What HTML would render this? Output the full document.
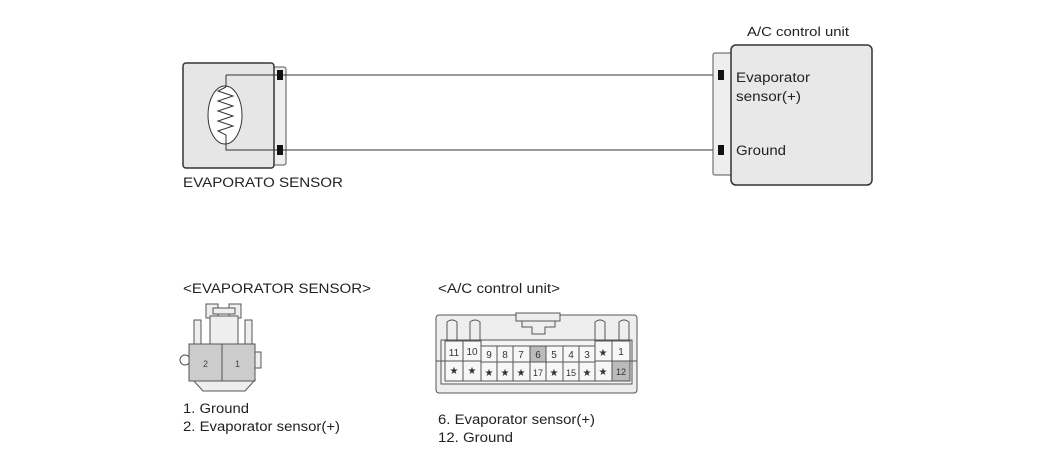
<!DOCTYPE html>
<html><head><style>
html,body{margin:0;padding:0;background:#fff;}
svg{display:block;font-family:"Liberation Sans",Arial,sans-serif;}
</style></head><body>
<svg width="1050" height="468" viewBox="0 0 1050 468">
<!-- sensor -->
<rect x="273" y="67" width="13" height="98" rx="2" fill="#eee" stroke="#555"/>
<rect x="183" y="63" width="91" height="105" rx="3" fill="#e6e6e6" stroke="#333" stroke-width="1.5"/>
<ellipse cx="225" cy="115" rx="17" ry="29" fill="#fff" stroke="#333"/>
<polyline points="226,75 282,75" fill="none" stroke="#333"/>
<polyline points="226,75 226,87" fill="none" stroke="#333"/>
<polyline points="226,87 218,91 233,96 218,101 233,106 218,111 233,116 218,121 233,126 218,131 226,135 226,150 282,150" fill="none" stroke="#333"/>
<rect x="277" y="70" width="6" height="10" fill="#111"/>
<rect x="277" y="145" width="6" height="10" fill="#111"/>
<line x1="283" y1="75" x2="716" y2="75" stroke="#333"/>
<line x1="283" y1="150" x2="716" y2="150" stroke="#333"/>
<text x="183" y="187" font-size="13.5" fill="#222" textLength="160" lengthAdjust="spacingAndGlyphs">EVAPORATO SENSOR</text>
<!-- ACU -->
<rect x="713" y="53" width="20" height="122" rx="2" fill="#eee" stroke="#555"/>
<rect x="731" y="45" width="141" height="140" rx="5" fill="#e8e8e8" stroke="#333" stroke-width="1.5"/>
<rect x="718" y="70" width="6" height="10" fill="#111"/>
<rect x="718" y="145" width="6" height="10" fill="#111"/>
<text x="747" y="36" font-size="13" fill="#222" textLength="102" lengthAdjust="spacingAndGlyphs">A/C control unit</text>
<text x="736" y="82" font-size="13.5" fill="#222" textLength="74" lengthAdjust="spacingAndGlyphs">Evaporator</text>
<text x="736" y="101" font-size="13.5" fill="#222" textLength="65" lengthAdjust="spacingAndGlyphs">sensor(+)</text>
<text x="736" y="155" font-size="13.5" fill="#222" textLength="50" lengthAdjust="spacingAndGlyphs">Ground</text>
<!-- bottom sensor connector -->
<text x="183" y="293" font-size="13.5" fill="#222" textLength="188" lengthAdjust="spacingAndGlyphs">&lt;EVAPORATOR SENSOR&gt;</text>
<rect x="206" y="304" width="12" height="14" fill="#eee" stroke="#555"/>
<rect x="229" y="304" width="12" height="14" fill="#eee" stroke="#555"/>
<rect x="213" y="308" width="22" height="6" fill="#eee" stroke="#555"/>
<rect x="194" y="320" width="7" height="25" fill="#eee" stroke="#555"/>
<rect x="245" y="320" width="7" height="25" fill="#eee" stroke="#555"/>
<rect x="210" y="316" width="28" height="29" fill="#eee" stroke="#555"/>
<circle cx="185" cy="360" r="5" fill="#fff" stroke="#555"/>
<rect x="255" y="352" width="6" height="16" fill="#eee" stroke="#555"/>
<path d="M193 380 L255 380 L245 391 L203 391 Z" fill="#eee" stroke="#555"/>
<rect x="189" y="344" width="33" height="37" fill="#ccc" stroke="#555"/>
<rect x="222" y="344" width="33" height="37" fill="#ccc" stroke="#555"/>
<text x="203" y="367" font-size="9" fill="#444">2</text>
<text x="235" y="367" font-size="9" fill="#444">1</text>
<text x="183" y="413" font-size="13.5" fill="#222" textLength="66" lengthAdjust="spacingAndGlyphs">1. Ground</text>
<text x="183" y="431" font-size="13.5" fill="#222" textLength="157" lengthAdjust="spacingAndGlyphs">2. Evaporator sensor(+)</text>
<!-- ACU connector -->
<text x="438" y="293" font-size="13.5" fill="#222" textLength="122" lengthAdjust="spacingAndGlyphs">&lt;A/C control unit&gt;</text>
<rect x="436" y="315" width="201" height="78" rx="3" fill="#eee" stroke="#555"/>
<rect x="516" y="313" width="44" height="8" fill="#eee" stroke="#555"/>
<path d="M522 321 L555 321 L555 327 L545 327 L545 334 L532 334 L532 327 L522 327 Z" fill="#eee" stroke="#555"/>
<path d="M447 340 L447 322 Q452 318 457 322 L457 340" fill="none" stroke="#555"/>
<path d="M470 340 L470 322 Q475 318 480 322 L480 340" fill="none" stroke="#555"/>
<path d="M595 340 L595 322 Q600 318 605 322 L605 340" fill="none" stroke="#555"/>
<path d="M619 340 L619 322 Q624 318 629 322 L629 340" fill="none" stroke="#555"/>
<rect x="441" y="340" width="191" height="44" fill="#f4f4f4" stroke="#555"/>
<line x1="436" y1="361" x2="637" y2="361" stroke="#555"/>
<g stroke="#555" font-size="10" fill="#333" text-anchor="middle">
<rect x="445" y="341" width="18" height="20" fill="#f7f7f7"/><text x="454" y="356" stroke="none">11</text>
<rect x="463" y="341" width="18" height="20" fill="#f7f7f7"/><text x="472" y="355" stroke="none">10</text>
<rect x="445" y="361" width="18" height="20" fill="#f7f7f7"/><text x="454" y="374" stroke="none">★</text>
<rect x="463" y="361" width="18" height="20" fill="#f7f7f7"/><text x="472" y="374" stroke="none">★</text>
<rect x="481" y="346" width="16" height="16" fill="#f7f7f7"/><text x="489" y="358" stroke="none">9</text>
<rect x="497" y="346" width="16" height="16" fill="#f7f7f7"/><text x="505" y="358" stroke="none">8</text>
<rect x="513" y="346" width="17" height="16" fill="#f7f7f7"/><text x="521" y="358" stroke="none">7</text>
<rect x="530" y="346" width="16" height="16" fill="#bbb"/><text x="538" y="358" stroke="none">6</text>
<rect x="546" y="346" width="17" height="16" fill="#f7f7f7"/><text x="554" y="358" stroke="none">5</text>
<rect x="563" y="346" width="16" height="16" fill="#f7f7f7"/><text x="571" y="358" stroke="none">4</text>
<rect x="579" y="346" width="16" height="16" fill="#f7f7f7"/><text x="587" y="358" stroke="none">3</text>
<rect x="595" y="341" width="17" height="20" fill="#f7f7f7"/><text x="603" y="356" stroke="none">★</text>
<rect x="612" y="341" width="18" height="20" fill="#f7f7f7"/><text x="621" y="355" stroke="none">1</text>
<rect x="481" y="362" width="16" height="19" fill="#f7f7f7"/><text x="489" y="376" stroke="none">★</text>
<rect x="497" y="362" width="16" height="19" fill="#f7f7f7"/><text x="505" y="376" stroke="none">★</text>
<rect x="513" y="362" width="17" height="19" fill="#f7f7f7"/><text x="521" y="376" stroke="none">★</text>
<rect x="530" y="362" width="16" height="19" fill="#f7f7f7"/><text x="538" y="376" stroke="none" font-size="9">17</text>
<rect x="546" y="362" width="17" height="19" fill="#f7f7f7"/><text x="554" y="376" stroke="none">★</text>
<rect x="563" y="362" width="16" height="19" fill="#f7f7f7"/><text x="571" y="376" stroke="none" font-size="9">15</text>
<rect x="579" y="362" width="16" height="19" fill="#f7f7f7"/><text x="587" y="376" stroke="none">★</text>
<rect x="595" y="361" width="17" height="20" fill="#f7f7f7"/><text x="603" y="375" stroke="none">★</text>
<rect x="612" y="361" width="18" height="20" fill="#bbb"/><text x="621" y="375" stroke="none" font-size="9">12</text>
</g>
<text x="438" y="424" font-size="13.5" fill="#222" textLength="157" lengthAdjust="spacingAndGlyphs">6. Evaporator sensor(+)</text>
<text x="438" y="442" font-size="13.5" fill="#222" textLength="75" lengthAdjust="spacingAndGlyphs">12. Ground</text>
</svg>
</body></html>
